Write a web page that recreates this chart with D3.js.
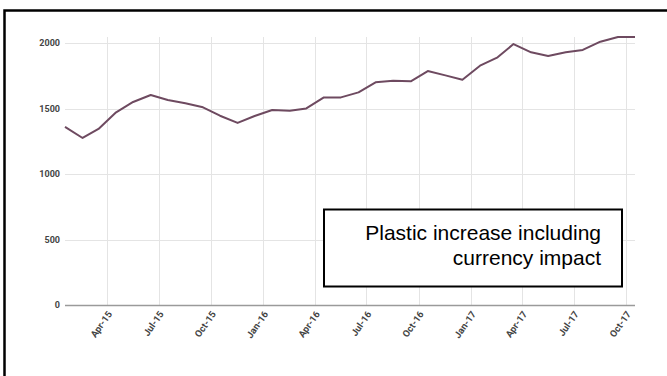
<!DOCTYPE html>
<html>
<head>
<meta charset="utf-8">
<script src="https://cdn.jsdelivr.net/npm/d3@7"></script>
<style>
  html, body { margin: 0; padding: 0; background: #fff; }
  svg { display: block; }
</style>
</head>
<body>
<svg id="chart" width="667" height="376"></svg>
<script>
// ---- data ----
const months = ["2015-01","2015-02","2015-03","2015-04","2015-05","2015-06","2015-07","2015-08","2015-09","2015-10","2015-11","2015-12",
                "2016-01","2016-02","2016-03","2016-04","2016-05","2016-06","2016-07","2016-08","2016-09","2016-10","2016-11","2016-12",
                "2017-01","2017-02","2017-03","2017-04","2017-05","2017-06","2017-07","2017-08","2017-09","2017-10"];
const values = [1360, 1275, 1344, 1471, 1550, 1603, 1565, 1540, 1509, 1445, 1390,
                1443, 1489, 1483, 1501, 1585, 1585, 1623, 1700, 1712, 1708, 1786,
                1753, 1720, 1827, 1891, 1992, 1929, 1901, 1929, 1947, 2010, 2046, 2046];
const yTicks = [0, 500, 1000, 1500, 2000];
const xTickLabels = ["Apr-15","Jul-15","Oct-15","Jan-16","Apr-16","Jul-16","Oct-16","Jan-17","Apr-17","Jul-17","Oct-17"];
const annotationLines = ["Plastic increase including", "currency impact"];

(function () {
const svg = d3.select("#chart");

// outer frame
svg.append("rect")
  .attr("x", 4.5).attr("y", 10.5)
  .attr("width", 700).attr("height", 400)
  .attr("fill", "none").attr("stroke", "#000").attr("stroke-width", 2.5);

const pL = 65, pR = 635, pT = 37, pB = 305;
const parseM = d3.timeParse("%Y-%m");
const parseTick = d3.timeParse("%b-%y");
const pts = months.map((m, i) => {
  const d = parseM(m); d.setDate(17);
  return { date: d, value: values[i] };
});

const x = d3.scaleTime()
  .domain([new Date(2015, 0, 17), new Date(2017, 9, 17)])
  .range([pL, pR]);
const y = d3.scaleLinear().domain([0, 2046]).range([pB, pT]);

const tickDates = xTickLabels.map(s => parseTick(s));

// horizontal gridlines
svg.append("g").selectAll("line").data(yTicks.filter(v => v > 0)).join("line")
  .attr("x1", pL).attr("x2", pR)
  .attr("y1", d => Math.round(y(d)) + 0.5).attr("y2", d => Math.round(y(d)) + 0.5)
  .attr("stroke", "#e4e4e4").attr("stroke-width", 1);

// vertical gridlines
svg.append("g").selectAll("line").data(tickDates).join("line")
  .attr("x1", d => Math.round(x(d)) + 0.5).attr("x2", d => Math.round(x(d)) + 0.5)
  .attr("y1", pT).attr("y2", pB)
  .attr("stroke", "#e4e4e4").attr("stroke-width", 1);

// baseline
svg.append("line")
  .attr("x1", pL).attr("x2", pR)
  .attr("y1", y(0) + 0.5).attr("y2", y(0) + 0.5)
  .attr("stroke", "#9a9a9a").attr("stroke-width", 1.3);

// y axis labels
const yAxis = d3.axisLeft(y).tickValues(yTicks).tickSize(0).tickPadding(5).tickFormat(d3.format("d"));
const gy = svg.append("g").attr("transform", `translate(${pL},0)`).call(yAxis);
gy.select(".domain").remove();
gy.selectAll("text")
  .attr("font-family", "Roboto, sans-serif").attr("font-size", 9)
  .attr("font-weight", "bold").attr("fill", "#444");

// x axis labels
const xAxis = d3.axisBottom(x).tickValues(tickDates).tickSize(0).tickPadding(0).tickFormat(d3.timeFormat("%b-%y"));
const gx = svg.append("g").attr("transform", `translate(0,${pB})`).call(xAxis);
gx.select(".domain").remove();
gx.selectAll("text")
  .attr("font-family", "Roboto, sans-serif").attr("font-size", 9.5)
  .attr("font-weight", "bold").attr("fill", "#444")
  .attr("text-anchor", "end")
  .attr("dy", 0)
  .attr("transform", "translate(5,9) rotate(-55)")
  .attr("y", 0).attr("x", 0);

// line
svg.append("path")
  .datum(pts)
  .attr("fill", "none")
  .attr("stroke", "#6e4a60")
  .attr("stroke-width", 2)
  .attr("stroke-linejoin", "round")
  .attr("d", d3.line().x(d => x(d.date)).y(d => y(d.value)));

// annotation box
svg.append("rect")
  .attr("x", 324).attr("y", 209.5)
  .attr("width", 298).attr("height", 77)
  .attr("fill", "#fff").attr("stroke", "#000").attr("stroke-width", 2);

const ann = svg.append("text")
  .attr("font-family", "'Liberation Sans', Arial, sans-serif")
  .attr("font-size", 21).attr("fill", "#000")
  .attr("text-anchor", "end");
ann.selectAll("tspan").data(annotationLines).join("tspan")
  .attr("x", 601)
  .attr("y", (d, i) => 240 + i * 25)
  .text(d => d);
})();
</script>
</body>
</html>
